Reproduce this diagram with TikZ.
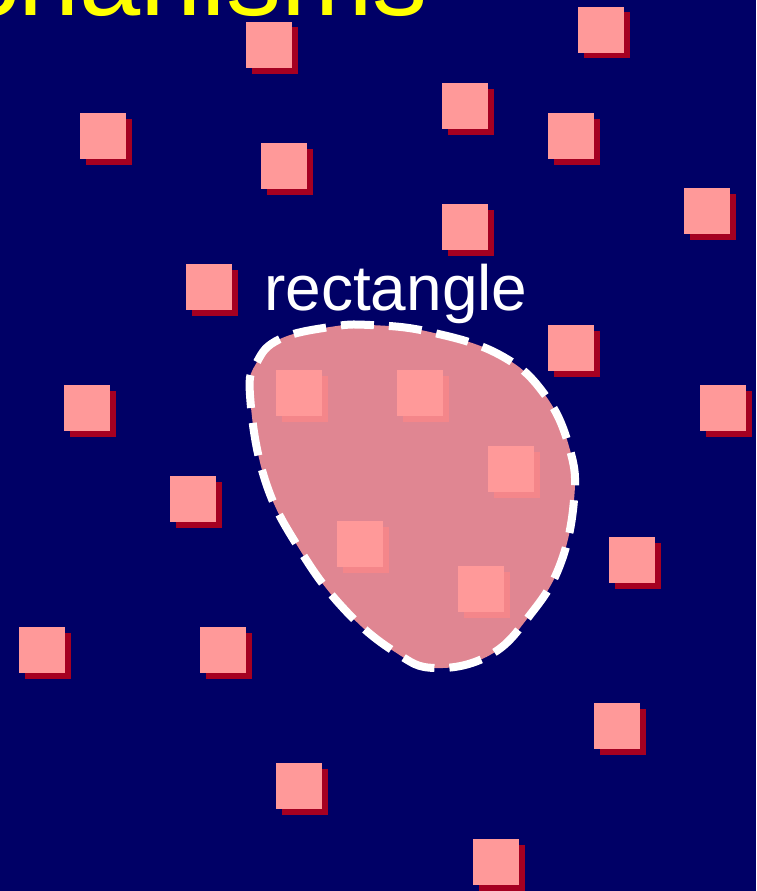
\documentclass[tikz,border=0pt]{standalone}
\usepackage{fontspec}
\setmainfont{Liberation Sans}
\definecolor{slideblue}{HTML}{000066}
\definecolor{squarepink}{HTML}{FF9999}
\definecolor{shadowred}{HTML}{A50021}
\definecolor{titleyellow}{HTML}{FFFF00}
\tikzset{
  pinksquare/.style={fill=squarepink},
  squareshadow/.style={fill=shadowred},
  blobline/.style={draw=white,line width=8pt,dash pattern=on 33pt off 15pt}
}
\begin{document}
\begin{tikzpicture}[x=1pt,y=-1pt]
  \useasboundingbox (0,0) rectangle (756,891);
  \clip (0,0) rectangle (756,891);
  \fill[slideblue] (0,0) rectangle (756,891);
  \node[anchor=base east,inner sep=0pt,text=titleyellow,font=\fontsize{110pt}{120pt}\selectfont]
    (title) at (428,16) {Mechanisms};
  \foreach \sx/\sy in {246/22,578/7,80/113,442/83,548/113,261/143,684/188,442/204,
      186/264,548/325,64/385,700/385,170/476,609/537,19/627,200/627,594/703,
      276/763,473/839,276/370,397/370,488/446,337/521,458/566}{
    \fill[squareshadow] (\sx+6,\sy+5.5) rectangle ++(46,46);
    \fill[pinksquare] (\sx,\sy) rectangle ++(46,46);
  }
  \node[anchor=base west,inner sep=0pt,text=white,font=\fontsize{64pt}{70pt}\selectfont]
    (label) at (264,310) {rectangle};
  \fill[squarepink,fill opacity=0.88] plot[smooth cycle,tension=0.7] coordinates {
    (250,395) (257,362) (280,339) (330,327) (370,325) (430,332) (500,355) (545,395)
    (570,450) (574,500) (560,565) (530,615) (490,655) (435,668) (395,652)
    (345,610) (300,550) (265,480)};
  \draw[blobline] plot[smooth cycle,tension=0.7] coordinates {
    (250,395) (257,362) (280,339) (330,327) (370,325) (430,332) (500,355) (545,395)
    (570,450) (574,500) (560,565) (530,615) (490,655) (435,668) (395,652)
    (345,610) (300,550) (265,480)};
\end{tikzpicture}
\end{document}
